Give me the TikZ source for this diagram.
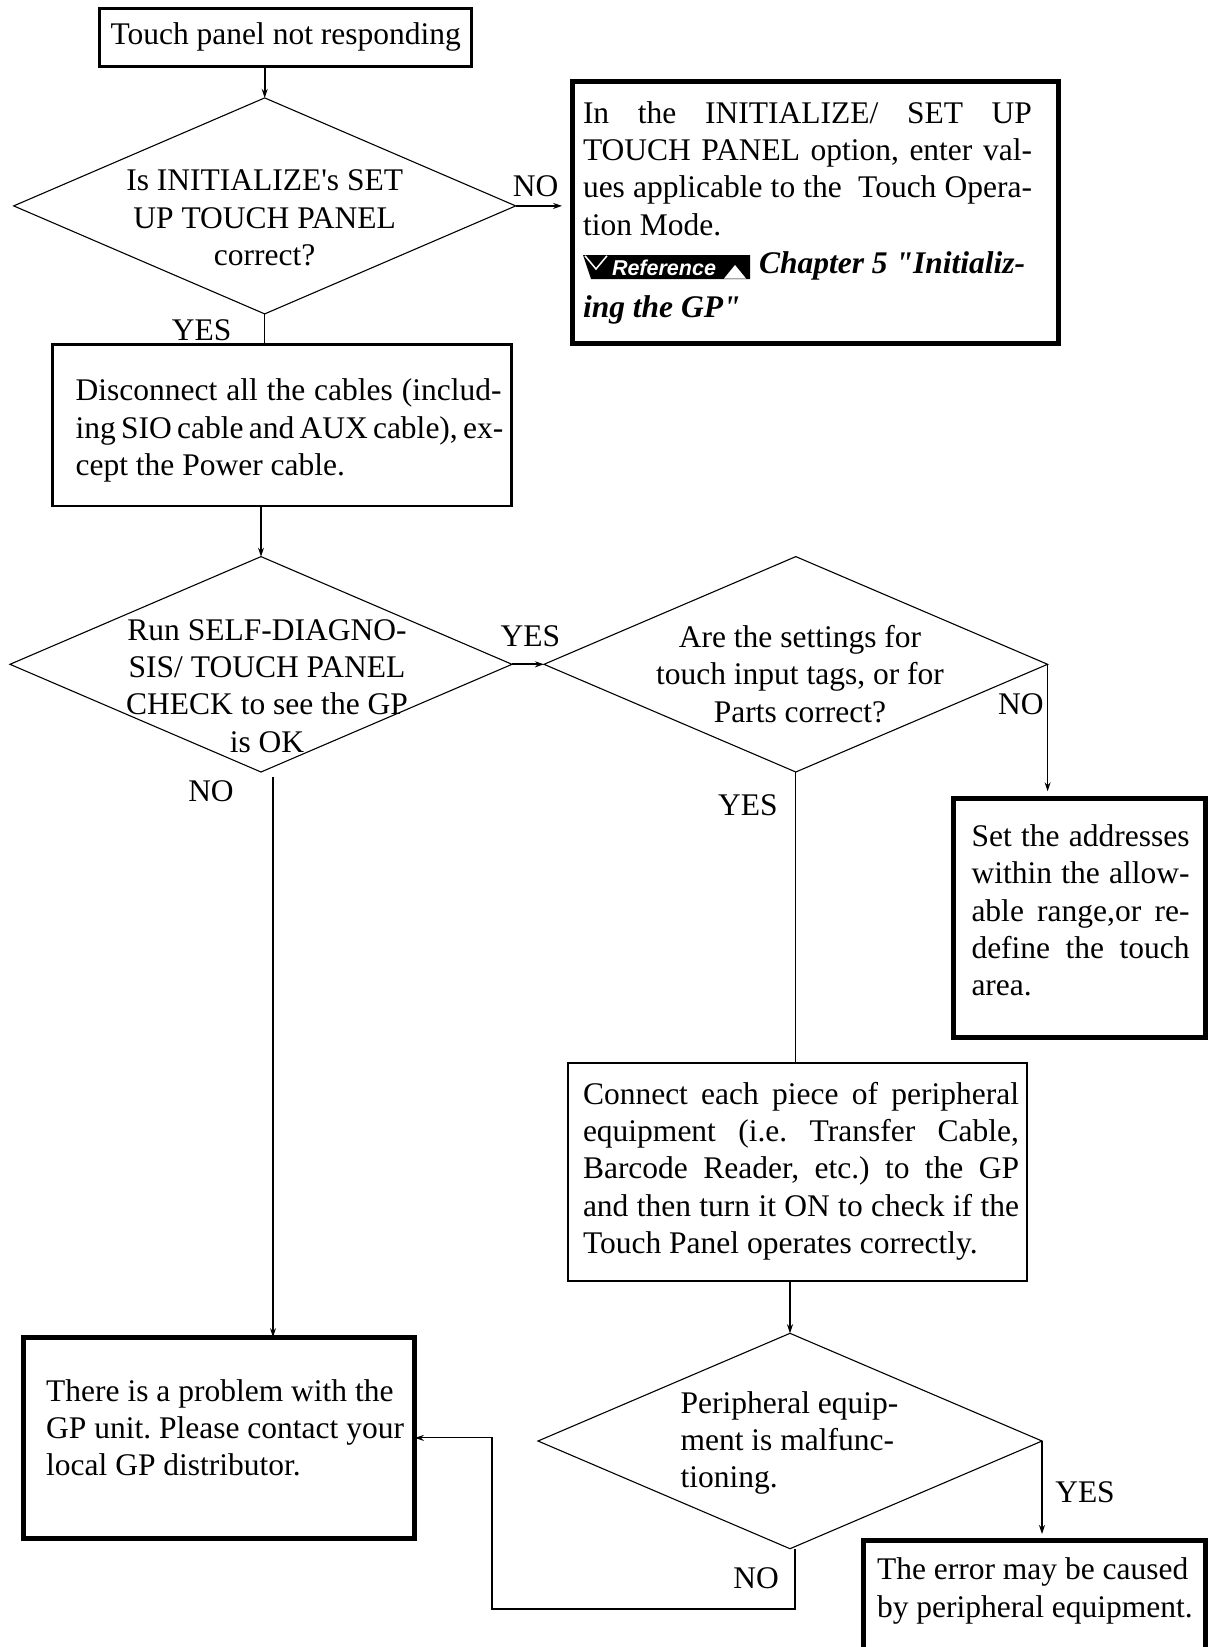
\documentclass[tikz,border=0pt]{standalone}
\usepackage{fontspec}
\setmainfont{Liberation Serif}[Ligatures=TeXOff]
\newfontfamily\refsans{Liberation Sans}
\usetikzlibrary{shapes.geometric,arrows.meta,calc}
\newcommand\jline[2]{\makebox[#1][s]{#2}}
\frenchspacing
\begin{document}
\begin{tikzpicture}[x=1pt,y=-1pt,
  every node/.style={font=\fontsize{31.5pt}{37.3pt}\selectfont, inner sep=0pt, outer sep=0pt},
  topbox/.style={draw, rectangle, line width=3pt},
  thinbox/.style={draw, rectangle, line width=2.2pt},
  fatbox/.style={draw, rectangle, line width=5pt},
  dia/.style={draw, diamond, line width=1.1pt},
  lbl/.style={},
  aline/.style={line width=1.8pt, -{Stealth[length=9pt,width=6pt]}},
  tline/.style={line width=1.1pt},
  tarrow/.style={line width=1.1pt, -{Stealth[length=9pt,width=6pt]}},
]
\useasboundingbox (0,0) rectangle (1211,1647);

% boxes
\node[topbox, minimum width=372pt, minimum height=58pt] (top) at (285.7,37.3) {Touch panel not responding};
\node[fatbox, minimum width=486pt, minimum height=261.5pt] (r1) at (815.6,212.7) {};
\node[thinbox, minimum width=459pt, minimum height=161.7pt] (b2) at (282,425.4) {};
\node[fatbox, minimum width=252pt, minimum height=239.5pt] (b3) at (1079.7,918) {};
\node[thinbox, minimum width=459pt, minimum height=218.5pt] (b4) at (797.7,1172.1) {};
\node[fatbox, minimum width=342.4pt, minimum height=180pt] (b5) at (1034.5,1630) {};
\node[fatbox, minimum width=391.8pt, minimum height=201.7pt] (b6) at (219,1437.9) {};

% diamonds
\node[dia, minimum width=502pt, minimum height=216pt] (d1) at (264.7,205.9) {};
\node[dia, minimum width=502pt, minimum height=215.4pt] (d2) at (261,664.3) {};
\node[dia, minimum width=503.6pt, minimum height=215.4pt] (d3) at (795.8,664.3) {};
\node[dia, minimum width=504pt, minimum height=215.4pt] (d4) at (790,1441) {};

% texts
\node[align=center] (d1t) at (264.7,218) {Is INITIALIZE's SET\\UP TOUCH PANEL\\correct?};
\node[align=center] (d2t) at (267,686) {Run SELF-DIAGNO-\\SIS/ TOUCH PANEL\\CHECK to see the GP\\is OK};
\node[align=center] (d3t) at (800,674) {Are the settings for\\touch input tags, or for\\Parts correct?};
\node[align=left, anchor=west] (d4t) at (680.6,1443) {Peripheral equip-\\ment is malfunc-\\tioning.};

\node[align=left] (r1t) at (807.5,168.5) {\jline{449pt}{In the INITIALIZE/ SET UP}\\\jline{449pt}{TOUCH PANEL option, enter val-}\\\jline{449pt}{ues applicable to the\ \ Touch Opera-}\\tion Mode.};
\fill (583,255) -- (750,255) -- (750,279) -- (591,279) -- cycle;
\draw[white, line width=1.5pt] (585,255.8) -- (596,269) -- (607,255.8);
\fill[white] (724,278.5) -- (735,265) -- (746,278.5) -- cycle;
\node[text=white, font=\refsans\bfseries\itshape\fontsize{21.5pt}{23pt}\selectfont] (refbadge) at (664,267.5) {Reference};
\node[anchor=base west, font=\fontsize{31.5pt}{37.3pt}\selectfont\bfseries\itshape] (chap1) at (759,273) {Chapter 5 "Initializ-};
\node[anchor=base west, font=\fontsize{31.5pt}{37.3pt}\selectfont\bfseries\itshape] (chap2) at (583,317) {ing the GP"};

\node[align=left] (b2t) at (288.6,430.5) {\jline{426pt}{Disconnect all the cables (includ-}\\\jline{426pt}{ing SIO cable and AUX cable), ex-}\\cept the Power cable.};
\node[align=left] (b3t) at (1080.5,910.5) {\jline{218pt}{Set the addresses}\\\jline{218pt}{within the allow-}\\\jline{218pt}{able range,or re-}\\\jline{218pt}{define the touch}\\area.};
\node[align=left] (b4t) at (801,1171) {\jline{436pt}{Connect each piece of peripheral}\\\jline{436pt}{equipment (i.e. Transfer Cable,}\\\jline{436pt}{Barcode Reader, etc.) to the GP}\\\jline{436pt}{and then turn it ON to check if the}\\Touch Panel operates correctly.};
\node[align=left, anchor=west] (b5t) at (877,1591) {The error may be caused\\by peripheral equipment.};
\node[align=left, anchor=west] (b6t) at (46.2,1427.7) {There is a problem with the\\GP unit. Please contact your\\local GP distributor.};

% labels
\node[lbl] (no1) at (535.7,185.9) {NO};
\node[lbl] (yes1) at (201.7,329.8) {YES};
\node[lbl] (yes2) at (530.4,636.5) {YES};
\node[lbl] (no2) at (211,791) {NO};
\node[lbl] (no3) at (1020.9,704.7) {NO};
\node[lbl] (yes3) at (747.8,805.6) {YES};
\node[lbl] (yes4) at (1085,1492.5) {YES};
\node[lbl] (no4) at (756.2,1578.6) {NO};

% connectors
\coordinate (noend) at (562,205.9);
\coordinate (lp) at (492,1609);
\coordinate (d2out) at ($(d2.south)+(12,5)$);
\coordinate (d4out) at ($(d4.south)+(5,0)$);
\draw[aline] (d1.north |- top.south) -- (d1.north);
\draw[aline] (d1.east) -- (noend);
\draw[tline] (d1.south) -- (d1.south |- b2.north);
\draw[aline] (d2.north |- b2.south) -- (d2.north);
\draw[aline] (d2.east) -- (d3.west);
\draw[tarrow, shorten >=7pt] (d3.east) -- (d3.east |- b3.north);
\draw[tline] (d3.south) -- (d3.south |- b4.north);
\draw[tarrow] (d2out) -- (d2out |- b6.north);
\draw[aline] (d4.north |- b4.south) -- (d4.north);
\draw[tarrow, shorten >=6pt] (d4.east) -- (d4.east |- b5.north);
\draw[tarrow] (d4out) |- (lp) |- (b6.east);
\end{tikzpicture}
\end{document}
